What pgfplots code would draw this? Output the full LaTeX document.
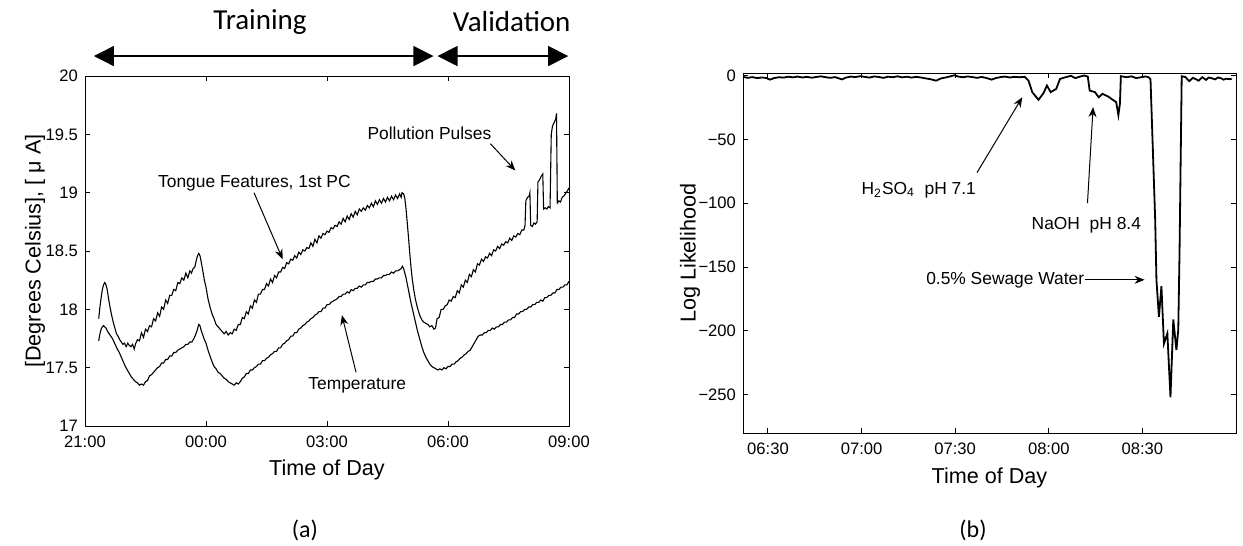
\documentclass[border=0pt]{standalone}
\usepackage{pgfplots}
\pgfplotsset{compat=1.18}
\usepackage{fontspec}
\setmainfont{Liberation Sans}
\newfontfamily\calib{Carlito}
\usetikzlibrary{arrows.meta}

\tikzset{
  note/.style={font=\fontsize{8.7}{10}\selectfont, inner sep=0pt},
  pt/.style={-{Stealth[length=5pt,width=4pt]}, line width=0.5pt},
  span/.style={{Triangle[length=10pt,width=10pt]}-{Triangle[length=10pt,width=10pt]}, line width=0.7pt},
}
\pgfplotsset{
  matlab/.style={
    scale only axis, anchor=south west, clip=false,
    tick align=inside, xtick pos=both, ytick pos=both,
    major tick length=2.5pt,
    tick label style={font=\fontsize{8.3}{9}\selectfont},
    xticklabel style={yshift=-1.5pt},
    axis line style={line width=0.5pt},
    every tick/.style={black, line width=0.5pt},
  },
}

\begin{document}
\begin{tikzpicture}
\path[use as bounding box] (0,0) rectangle (621.5pt,-273pt);

% (a) sensor signals
\begin{axis}[matlab,
  at={(42.5pt,-213pt)}, width=242pt, height=175pt,
  xmin=0, xmax=12, ymin=17, ymax=20,
  xtick={0,3,6,9,12}, xticklabels={21:00,00:00,03:00,06:00,09:00},
  ytick={17,17.5,18,18.5,19,19.5,20}, yticklabels={17,17.5,18,18.5,19,19.5,20},
]
% tongue features, 1st PC
\addplot[black, line width=0.55pt] coordinates {
(0.34,17.92)(0.37,18.02)(0.40,18.10)(0.43,18.17)(0.46,18.21)(0.49,18.23)(0.52,18.21)(0.55,18.17)
(0.58,18.10)(0.62,18.02)(0.66,17.95)(0.70,17.89)(0.74,17.84)(0.78,17.79)(0.82,17.77)(0.86,17.74)
(0.90,17.72)(0.94,17.70)(0.98,17.71)(1.02,17.68)(1.06,17.71)(1.10,17.69)(1.14,17.68)(1.18,17.70)
(1.22,17.66)(1.26,17.71)(1.30,17.74)(1.35,17.73)(1.40,17.80)(1.45,17.76)(1.50,17.83)(1.55,17.81)
(1.60,17.86)(1.65,17.85)(1.70,17.92)(1.75,17.90)(1.80,17.97)(1.85,17.94)(1.90,18.02)(1.95,18.00)
(2.00,18.08)(2.05,18.05)(2.10,18.12)(2.15,18.12)(2.20,18.17)(2.25,18.16)(2.30,18.23)(2.35,18.22)
(2.40,18.27)(2.45,18.25)(2.50,18.31)(2.55,18.27)(2.60,18.33)(2.64,18.31)(2.68,18.35)(2.72,18.36)
(2.76,18.42)(2.79,18.46)(2.82,18.48)(2.85,18.46)(2.88,18.41)(2.92,18.33)(2.96,18.25)(3.00,18.19)
(3.05,18.09)(3.10,18.02)(3.15,17.96)(3.20,17.92)(3.25,17.87)(3.30,17.85)(3.35,17.83)(3.40,17.81)
(3.45,17.79)(3.50,17.81)(3.55,17.78)(3.60,17.80)(3.65,17.79)(3.70,17.83)(3.75,17.82)(3.80,17.87)
(3.85,17.87)(3.90,17.93)(3.95,17.92)(4.00,17.98)(4.05,17.96)(4.10,18.03)(4.15,18.01)(4.20,18.08)
(4.25,18.06)(4.30,18.13)(4.35,18.13)(4.40,18.17)(4.45,18.17)(4.50,18.22)(4.55,18.20)(4.60,18.26)
(4.65,18.23)(4.70,18.29)(4.75,18.27)(4.80,18.32)(4.85,18.32)(4.90,18.36)(4.95,18.35)(5.00,18.40)
(5.05,18.39)(5.10,18.43)(5.15,18.42)(5.20,18.46)(5.25,18.44)(5.30,18.49)(5.35,18.47)(5.40,18.51)
(5.45,18.50)(5.50,18.53)(5.55,18.52)(5.60,18.57)(5.65,18.54)(5.70,18.60)(5.75,18.57)(5.80,18.63)
(5.85,18.61)(5.90,18.65)(5.95,18.64)(6.00,18.67)(6.05,18.66)(6.10,18.70)(6.15,18.69)(6.20,18.72)
(6.25,18.71)(6.30,18.75)(6.35,18.73)(6.40,18.78)(6.45,18.75)(6.50,18.80)(6.55,18.77)(6.60,18.82)
(6.65,18.79)(6.70,18.84)(6.75,18.81)(6.80,18.86)(6.85,18.84)(6.90,18.87)(6.95,18.85)(7.00,18.89)
(7.05,18.87)(7.10,18.91)(7.15,18.88)(7.20,18.93)(7.25,18.90)(7.30,18.94)(7.35,18.91)(7.40,18.95)
(7.45,18.92)(7.50,18.96)(7.55,18.93)(7.60,18.97)(7.65,18.94)(7.70,18.98)(7.75,18.95)(7.80,18.99)
(7.84,18.96)(7.86,19.00)(7.90,18.99)(7.93,18.95)(7.96,18.86)(7.99,18.74)(8.02,18.62)(8.05,18.49)
(8.08,18.37)(8.11,18.27)(8.15,18.17)(8.19,18.09)(8.23,18.03)(8.27,17.98)(8.31,17.94)(8.35,17.91)
(8.40,17.89)(8.45,17.88)(8.50,17.87)(8.55,17.85)(8.60,17.86)(8.65,17.83)(8.69,17.84)(8.73,17.92)
(8.78,17.93)(8.83,18.00)(8.88,18.00)(8.93,18.03)(8.98,18.04)(9.03,18.08)(9.08,18.07)(9.13,18.11)
(9.18,18.10)(9.23,18.16)(9.28,18.14)(9.33,18.21)(9.38,18.19)(9.43,18.25)(9.48,18.23)(9.53,18.30)
(9.58,18.28)(9.63,18.34)(9.68,18.32)(9.73,18.39)(9.78,18.38)(9.83,18.43)(9.88,18.41)(9.93,18.45)
(9.98,18.44)(10.03,18.48)(10.08,18.46)(10.13,18.51)(10.18,18.50)(10.23,18.54)(10.28,18.52)(10.33,18.56)
(10.38,18.55)(10.43,18.58)(10.48,18.57)(10.53,18.61)(10.58,18.59)(10.63,18.63)(10.68,18.62)(10.73,18.65)
(10.78,18.64)(10.83,18.68)(10.88,18.68)(10.91,18.72)(10.93,18.93)(10.97,18.96)(11.01,18.97)(11.03,19.00)
(11.05,18.72)(11.09,18.71)(11.13,18.74)(11.17,18.73)(11.21,18.75)(11.23,19.09)(11.27,19.11)(11.31,19.14)
(11.35,19.16)(11.37,18.86)(11.41,18.87)(11.45,18.86)(11.49,18.88)(11.53,18.87)(11.56,19.50)(11.59,19.57)
(11.63,19.60)(11.67,19.63)(11.69,19.68)(11.71,18.91)(11.75,18.93)(11.79,18.92)(11.83,18.96)(11.87,18.97)
(11.91,18.99)(11.95,19.01)(12.00,19.04)
};
% temperature
\addplot[black, line width=0.55pt] coordinates {
(0.34,17.73)(0.37,17.79)(0.40,17.83)(0.43,17.85)(0.46,17.86)(0.49,17.85)(0.52,17.84)(0.56,17.81)
(0.60,17.79)(0.64,17.77)(0.68,17.75)(0.72,17.72)(0.76,17.69)(0.80,17.66)(0.85,17.63)(0.90,17.59)
(0.95,17.55)(1.00,17.51)(1.05,17.48)(1.10,17.45)(1.15,17.42)(1.20,17.40)(1.25,17.38)(1.30,17.37)
(1.35,17.35)(1.40,17.36)(1.45,17.35)(1.50,17.38)(1.55,17.39)(1.60,17.43)(1.65,17.44)(1.70,17.46)
(1.75,17.48)(1.80,17.50)(1.85,17.51)(1.90,17.54)(1.95,17.54)(2.00,17.57)(2.05,17.57)(2.10,17.60)
(2.15,17.60)(2.20,17.63)(2.25,17.63)(2.30,17.65)(2.35,17.66)(2.40,17.67)(2.45,17.68)(2.50,17.70)
(2.55,17.70)(2.60,17.72)(2.65,17.72)(2.70,17.75)(2.74,17.78)(2.78,17.82)(2.82,17.87)(2.85,17.86)
(2.88,17.82)(2.92,17.78)(2.96,17.74)(3.00,17.71)(3.05,17.65)(3.10,17.60)(3.15,17.55)(3.20,17.51)
(3.25,17.49)(3.30,17.46)(3.35,17.45)(3.40,17.43)(3.45,17.41)(3.50,17.40)(3.55,17.38)(3.60,17.37)
(3.65,17.36)(3.70,17.35)(3.75,17.37)(3.80,17.36)(3.85,17.38)(3.90,17.41)(3.95,17.42)(4.00,17.45)
(4.05,17.45)(4.10,17.48)(4.15,17.48)(4.20,17.50)(4.25,17.51)(4.30,17.53)(4.35,17.53)(4.40,17.56)
(4.45,17.56)(4.50,17.58)(4.55,17.59)(4.60,17.61)(4.65,17.62)(4.70,17.64)(4.75,17.64)(4.80,17.67)
(4.85,17.67)(4.90,17.70)(4.95,17.71)(5.00,17.73)(5.05,17.74)(5.10,17.77)(5.15,17.77)(5.20,17.80)
(5.25,17.80)(5.30,17.83)(5.35,17.84)(5.40,17.86)(5.45,17.87)(5.50,17.89)(5.55,17.90)(5.60,17.92)
(5.65,17.93)(5.70,17.95)(5.75,17.96)(5.80,17.98)(5.85,17.98)(5.90,18.01)(5.95,18.01)(6.00,18.04)
(6.05,18.04)(6.10,18.06)(6.15,18.07)(6.20,18.08)(6.25,18.09)(6.30,18.11)(6.35,18.11)(6.40,18.13)
(6.45,18.13)(6.50,18.15)(6.55,18.14)(6.60,18.17)(6.65,18.16)(6.70,18.18)(6.75,18.18)(6.80,18.20)
(6.85,18.19)(6.90,18.21)(6.95,18.21)(7.00,18.23)(7.05,18.23)(7.10,18.24)(7.15,18.24)(7.20,18.26)
(7.25,18.26)(7.30,18.27)(7.35,18.27)(7.40,18.29)(7.45,18.29)(7.50,18.30)(7.55,18.30)(7.60,18.32)
(7.65,18.31)(7.70,18.33)(7.75,18.33)(7.80,18.34)(7.84,18.35)(7.87,18.37)(7.90,18.35)(7.93,18.31)
(7.96,18.27)(8.00,18.20)(8.04,18.13)(8.08,18.06)(8.12,18.00)(8.16,17.94)(8.20,17.88)(8.24,17.82)
(8.28,17.77)(8.32,17.72)(8.36,17.67)(8.40,17.63)(8.45,17.59)(8.50,17.56)(8.55,17.53)(8.60,17.51)
(8.65,17.50)(8.70,17.49)(8.75,17.48)(8.80,17.49)(8.85,17.48)(8.90,17.50)(8.95,17.49)(9.00,17.51)
(9.05,17.51)(9.10,17.53)(9.15,17.53)(9.20,17.55)(9.25,17.56)(9.30,17.58)(9.35,17.59)(9.40,17.61)
(9.45,17.62)(9.50,17.64)(9.55,17.65)(9.60,17.68)(9.65,17.71)(9.70,17.74)(9.75,17.77)(9.80,17.78)
(9.85,17.78)(9.90,17.80)(9.95,17.80)(10.00,17.82)(10.05,17.82)(10.10,17.84)(10.15,17.83)(10.20,17.85)
(10.25,17.85)(10.30,17.87)(10.35,17.87)(10.40,17.89)(10.45,17.89)(10.50,17.91)(10.55,17.91)(10.60,17.93)
(10.65,17.93)(10.70,17.96)(10.75,17.96)(10.80,17.98)(10.85,17.98)(10.90,18.00)(10.95,18.00)(11.00,18.02)
(11.05,18.02)(11.10,18.04)(11.15,18.04)(11.20,18.06)(11.25,18.06)(11.30,18.08)(11.35,18.07)(11.40,18.10)
(11.45,18.10)(11.50,18.12)(11.55,18.12)(11.60,18.14)(11.65,18.14)(11.70,18.17)(11.75,18.17)(11.80,18.19)
(11.85,18.19)(11.90,18.21)(11.95,18.21)(12.00,18.24)
};
\node[note] at (axis cs:4.2,19.08) {Tongue Features, 1st PC};
\draw[pt] (axis cs:4.19,19.0) -- (axis cs:4.9,18.43);
\node[note] at (axis cs:6.75,17.35) {Temperature};
\draw[pt] (axis cs:6.72,17.46) -- (axis cs:6.37,17.95);
\node[note] at (axis cs:8.54,19.51) {Pollution Pulses};
\draw[pt] (axis cs:10.05,19.42) -- (axis cs:10.67,19.19);
% training / validation spans
\draw[span] (axis cs:0.22,20.171) -- (axis cs:8.64,20.171);
\draw[span] (axis cs:8.74,20.171) -- (axis cs:11.98,20.171);
\node[font=\calib\fontsize{14.5}{16}\selectfont] at (axis cs:4.34,20.463) {Training};
\node[font=\calib\fontsize{14.5}{16}\selectfont] at (axis cs:10.58,20.463) {Validation};
\node[rotate=90, font=\fontsize{10.8}{12}\selectfont] at ([xshift=-25pt]rel axis cs:0,0.5) {[Degrees Celsius], [ μ A]};
\node[font=\fontsize{10.8}{12}\selectfont] at ([yshift=-22pt]rel axis cs:0.5,0) {Time of Day};
\end{axis}

% (b) log likelihood
\begin{axis}[matlab,
  at={(371.5pt,-216.5pt)}, width=246.5pt, height=180pt,
  xmin=382, xmax=540, ymin=-280, ymax=2,
  xtick={390,420,450,480,510}, xticklabels={06:30,07:00,07:30,08:00,08:30},
  ytick={-250,-200,-150,-100,-50,0}, yticklabels={−250,−200,−150,−100,−50,0},
]
\addplot[black, line width=0.9pt] coordinates {
(382,-1.0)(383.5,-1.8)(385,-1.2)(386.5,-2.0)(388,-1.5)(389.5,-1.9)(390.6,-3.2)(392,-2.0)
(393.5,-1.3)(395,-1.6)(396.5,-0.9)(398,-1.4)(399.5,-0.8)(401,-1.5)(402.5,-1.0)(404,-1.7)
(405.5,-1.1)(407,-0.6)(408.5,-1.3)(410,-1.8)(411.5,-1.2)(413.7,-3.0)(415,-1.6)(416.5,-0.8)
(418,-1.2)(419.5,-0.5)(421,-1.0)(422.5,-1.6)(424,-0.7)(425.5,-1.1)(427,-1.8)(428.5,-0.9)
(430,-1.3)(431.5,-0.6)(433,-1.4)(434.5,-0.9)(436,-1.6)(437.5,-1.0)(439,-1.5)(440.5,-2.2)
(442,-2.8)(443.9,-4.0)(445.5,-2.2)(447,-1.5)(448.5,-0.6)(449.8,0.3)(451,-0.8)(452.5,-1.3)
(454,-0.7)(455.5,-1.2)(457,-1.8)(458.5,-1.1)(460,-1.9)(461.7,-3.2)(463,-2.0)(464.5,-1.2)
(466,-0.8)(467.5,-1.5)(469,-1.0)(470.5,-1.3)(472.3,-1.0)(473.5,-4.0)(474.7,-13.0)(475.7,-16.0)
(476.7,-19.0)(478.3,-13.8)(479.4,-7.8)(480.6,-13.0)(482.4,-10.4)(483.6,-2.6)(485.4,-1.3)(487.1,-0.2)
(488.5,-2.0)(490,-0.8)(491.3,0.0)(492.5,-0.8)(493.1,-11.7)(494.8,-13.0)(496.0,-17.0)(497.2,-14.3)
(499.0,-16.4)(500.8,-19.5)(501.6,-20.8)(502.3,-31.0)(502.8,-22.0)(503.1,-0.5)(504.9,-1.3)(506.5,-0.6)
(508,-2.0)(509.6,-1.3)(511,-0.7)(512.0,-1.3)(512.6,-3.0)(514.1,-113)(514.5,-160)(515.3,-189)
(516.1,-165)(516.9,-210)(518.0,-202)(519.0,-252)(519.9,-191)(520.9,-215)(521.5,-199)(521.9,-139)
(522.6,-0.5)(523.8,-1.2)(525.0,-4.4)(526.2,-1.8)(527.1,-2.8)(528.0,-4.0)(529.2,-1.3)(530.4,-3.4)
(531.2,-1.6)(532.1,-2.0)(533.3,-3.0)(534.2,-1.5)(535.1,-2.0)(536.0,-3.2)(536.9,-2.5)(538.0,-2.8)
(538.6,-2.6)
};
\node[note, anchor=west] at (axis cs:419.9,-90) {H\textsubscript{2}SO\textsubscript{4}~~pH 7.1};
\draw[pt] (axis cs:457,-76) -- (axis cs:471.5,-17);
\node[note, anchor=west] at (axis cs:474.4,-117) {NaOH~~pH 8.4};
\draw[pt] (axis cs:492.4,-100) -- (axis cs:494.2,-24.7);
\node[note, anchor=west] (sw) at (axis cs:440.6,-160) {0.5\% Sewage Water};
\draw[pt] (sw.east) -- (axis cs:510.7,-160);
\node[rotate=90, font=\fontsize{10.8}{12}\selectfont] at ([xshift=-26.5pt]rel axis cs:0,0.5) {Log Likelihood};
\node[font=\fontsize{10.8}{12}\selectfont] at ([yshift=-22.5pt]rel axis cs:0.5,0) {Time of Day};
\end{axis}

\node[font=\calib\fontsize{12}{14}\selectfont] at (152.5pt,-265pt) {(a)};
\node[font=\calib\fontsize{12}{14}\selectfont] at (486.5pt,-265pt) {(b)};
\end{tikzpicture}
\end{document}
